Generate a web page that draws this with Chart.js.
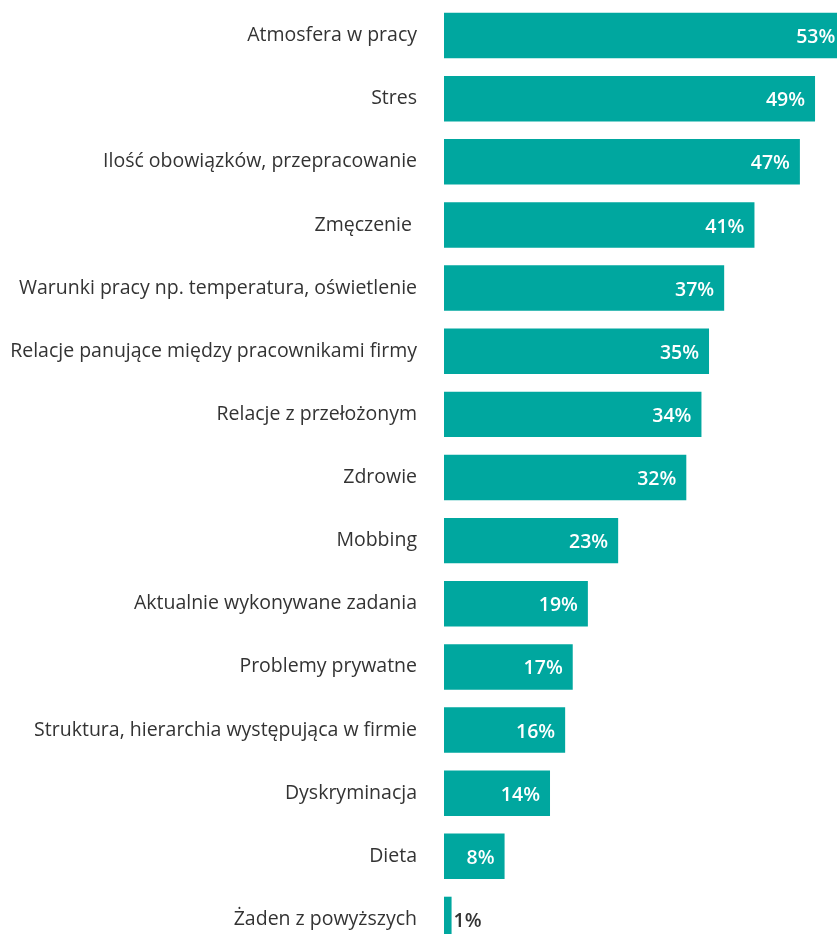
<!DOCTYPE html>
<html>
<head>
<meta charset="utf-8">
<script src="https://cdn.jsdelivr.net/npm/chart.js@4"></script>
<style>
    html, body { margin: 0; padding: 0; overflow: hidden; background: #fff; }
    #wrap { position: absolute; left: 0; top: 0; width: 837px; height: 952px; }
</style>
</head>
<body>
<div id="wrap"><canvas id="barChart"></canvas></div>
<script>
// Chart data
const categories = [
    'Atmosfera w pracy',
    'Stres',
    'Ilość obowiązków, przepracowanie',
    'Zmęczenie ',
    'Warunki pracy np. temperatura, oświetlenie',
    'Relacje panujące między pracownikami firmy',
    'Relacje z przełożonym',
    'Zdrowie',
    'Mobbing',
    'Aktualnie wykonywane zadania',
    'Problemy prywatne',
    'Struktura, hierarchia występująca w firmie',
    'Dyskryminacja',
    'Dieta',
    'Żaden z powyższych'
];
const percentValues = [53, 49, 47, 41, 37, 35, 34, 32, 23, 19, 17, 16, 14, 8, 1];

const barColor = '#00A79F';
const textColor = '#333333';
const fontFamily = '"Open Sans", "Noto Sans", sans-serif';

// Value labels drawn at the end of each bar
const valueLabels = {
    id: 'valueLabels',
    afterDatasetsDraw(chart) {
        const ctx = chart.ctx;
        const meta = chart.getDatasetMeta(0);
        ctx.save();
        ctx.font = '600 19.5px ' + fontFamily;
        ctx.textBaseline = 'middle';
        meta.data.forEach((bar, i) => {
            const text = percentValues[i] + '%';
            const w = ctx.measureText(text).width;
            const barWidth = bar.x - bar.base;
            if (barWidth > w + 16) {
                ctx.fillStyle = '#ffffff';
                ctx.textAlign = 'right';
                ctx.fillText(text, bar.x - 10, bar.y + 2);
            } else {
                ctx.fillStyle = textColor;
                ctx.textAlign = 'left';
                ctx.fillText(text, bar.x + 2, bar.y + 2);
            }
        });
        ctx.restore();
    }
};

const ctx = document.getElementById('barChart').getContext('2d');
const barChart = new Chart(ctx, {
    type: 'bar',
    data: {
        labels: categories,
        datasets: [{
            data: percentValues,
            backgroundColor: barColor,
            borderWidth: 0,
            categoryPercentage: 1,
            barPercentage: 0.72
        }]
    },
    options: {
        indexAxis: 'y',
        responsive: true,
        maintainAspectRatio: false,
        animation: false,
        layout: {
            padding: { top: 4, right: 0, bottom: 1, left: 0 }
        },
        plugins: {
            legend: { display: false },
            tooltip: { enabled: false }
        },
        scales: {
            x: {
                display: false,
                min: 0,
                max: 51.9
            },
            y: {
                afterFit: (scale) => {
                    scale.width = 444;
                    scale.paddingTop = 0;
                    scale.paddingBottom = 0;
                },
                grid: { display: false, drawTicks: false },
                border: { display: false },
                ticks: {
                    padding: 27,
                    color: textColor,
                    font: { family: fontFamily, size: 19.5 }
                }
            }
        }
    },
    plugins: [valueLabels]
});
</script>
</body>
</html>
